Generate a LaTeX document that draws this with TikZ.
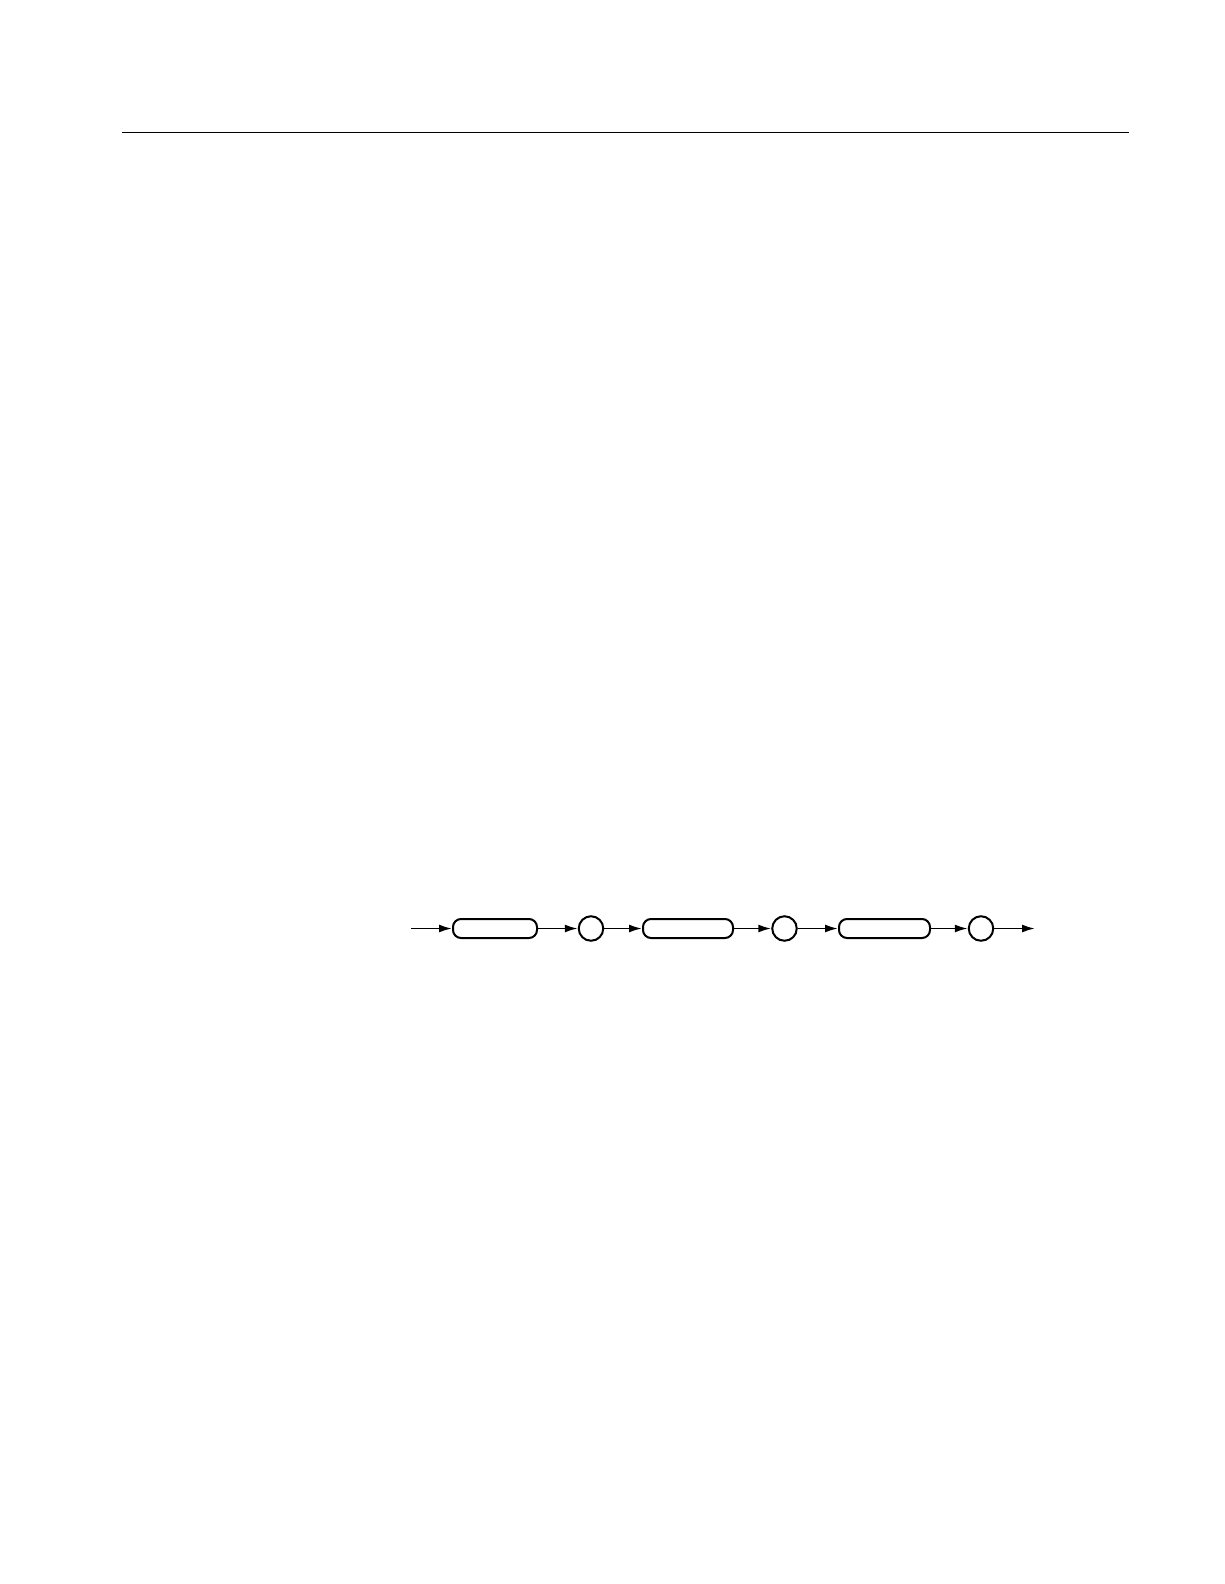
\documentclass[tikz,border=0pt]{standalone}
\usetikzlibrary{arrows.meta}
\begin{document}
\begin{tikzpicture}[x=1pt,y=-1pt,
  pill/.style={draw,line width=2pt,rounded corners=8pt,minimum height=19pt,inner sep=0pt},
  ring/.style={draw,circle,line width=2pt,minimum size=24.5pt,inner sep=0pt},
  flow/.style={line width=1.8pt,-{Latex[length=13pt,width=8pt]}}]
\useasboundingbox (0,0) rectangle (1224,1584);
\coordinate (rl) at (122,132.5);
\coordinate (rr) at (1129,132.5);
\draw[line width=1.4pt] (rl) -- (rr);
\coordinate (s) at (411,928.5);
\node[pill,minimum width=84pt] (b1) at (495,928.5) {};
\node[ring] (c1) at (591,928.5) {};
\node[pill,minimum width=90pt] (b2) at (688,928.5) {};
\node[ring] (c2) at (784.5,928.5) {};
\node[pill,minimum width=91pt] (b3) at (884.5,928.5) {};
\node[ring] (c3) at (981,928.5) {};
\coordinate (e) at (1035,928.5);
\draw[flow] (s) -- (b1);
\draw[flow] (b1) -- (c1);
\draw[flow] (c1) -- (b2);
\draw[flow] (b2) -- (c2);
\draw[flow] (c2) -- (b3);
\draw[flow] (b3) -- (c3);
\draw[flow] (c3) -- (e);
\end{tikzpicture}
\end{document}
